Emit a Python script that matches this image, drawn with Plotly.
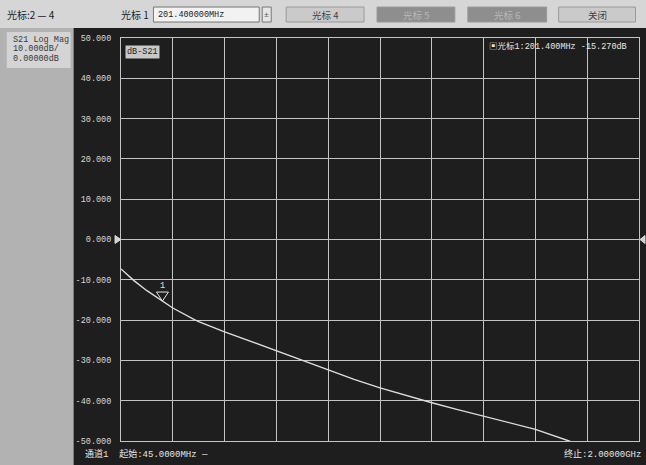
import plotly.graph_objects as go

# ---------------- data ----------------
freq_mhz = [45, 94, 142.75, 201.4, 240.5, 322, 338, 436, 533.75, 631.5, 720,
            827, 924.75, 1022.5, 1120.25, 1218, 1315.75, 1413.5, 1511.25, 1609,
            1736, 1804.5, 2000]
s21_db = [-7.3, -10.2, -12.7, -15.27, -17.0, -19.9, -20.4, -22.9, -25.3, -27.6,
          -29.8, -32.4, -34.7, -36.8, -38.7, -40.5, -42.2, -43.8, -45.4, -47.1,
          -50.0, -51.8, -56.0]
y_tick_vals = [50, 40, 30, 20, 10, 0, -10, -20, -30, -40, -50]
y_tick_text = ["50.000", "40.000", "30.000", "20.000", "10.000", "0.000",
               "-10.000", "-20.000", "-30.000", "-40.000", "-50.000"]
start_mhz = 45
stop_mhz = 2000
y_min, y_max = -50, 50
marker_freq = 201.4
marker_db = -15.27
ref_level = 0

# ---------------- geometry helpers (pixels -> paper) ----------------
W, H = 646, 465
L, R, T, B = 120.5, 639.5, 38, 441.5


def px(x):
    return (x - L) / (R - L)


def py(y):
    return (B - y) / (B - T)


MONO = "Liberation Mono, Noto Sans CJK SC, monospace"
CJK = "Noto Sans CJK SC, Liberation Mono, sans-serif"

fig = go.Figure()

fig.add_trace(go.Scatter(
    x=freq_mhz, y=s21_db, mode="lines",
    line=dict(color="#dcdcdc", width=1.4),
    hoverinfo="skip", showlegend=False,
))

shapes = []
annotations = []

# background panels
shapes.append(dict(type="rect", xref="paper", yref="paper", layer="below",
                   x0=px(-2), x1=px(73), y0=py(28), y1=py(H + 5),
                   fillcolor="#b2b2b2", line=dict(width=0)))
shapes.append(dict(type="rect", xref="paper", yref="paper", layer="below",
                   x0=px(73), x1=px(W + 5), y0=py(28), y1=py(H + 5),
                   fillcolor="#1e1e1e", line=dict(width=0)))
# left info box
shapes.append(dict(type="rect", xref="paper", yref="paper", layer="below",
                   x0=px(6), x1=px(70), y0=py(32), y1=py(68),
                   fillcolor="#d4d4d4", line=dict(width=0)))
for i, t in enumerate(["S21 Log Mag", "10.000dB/", "0.00000dB"]):
    annotations.append(dict(xref="paper", yref="paper", x=px(10), y=py(40 + i * 9.5),
                            xanchor="left", yanchor="middle", showarrow=False,
                            text=t, font=dict(family=MONO, size=8.5, color="#3a3a3a")))

# toolbar
annotations.append(dict(xref="paper", yref="paper", x=px(4), y=py(14),
                        xanchor="left", yanchor="middle", showarrow=False,
                        text="光标:2 — 4", font=dict(family=CJK, size=10, color="#222")))
annotations.append(dict(xref="paper", yref="paper", x=px(118), y=py(14),
                        xanchor="left", yanchor="middle", showarrow=False,
                        text="光标 1", font=dict(family=CJK, size=10, color="#222")))
shapes.append(dict(type="rect", xref="paper", yref="paper", layer="below",
                   x0=px(153), x1=px(259), y0=py(7), y1=py(22),
                   fillcolor="#f2f2f2", line=dict(color="#777", width=1)))
annotations.append(dict(xref="paper", yref="paper", x=px(156), y=py(14.5),
                        xanchor="left", yanchor="middle", showarrow=False,
                        text="201.400000MHz", font=dict(family=MONO, size=8.5, color="#222")))
shapes.append(dict(type="rect", xref="paper", yref="paper", layer="below",
                   x0=px(262), x1=px(271), y0=py(7), y1=py(22),
                   fillcolor="#e6e6e6", line=dict(color="#777", width=1)))
annotations.append(dict(xref="paper", yref="paper", x=px(266.5), y=py(14.5),
                        xanchor="center", yanchor="middle", showarrow=False,
                        text="±", font=dict(family=MONO, size=8, color="#555")))
buttons = [("光标 4", 286, 364, "#cacaca", "#444"),
           ("光标 5", 377, 455, "#8e8e8e", "#b8b8b8"),
           ("光标 6", 468, 547, "#8e8e8e", "#b8b8b8"),
           ("关闭", 559, 636, "#cacaca", "#444")]
for t, x0, x1, fc, tc in buttons:
    shapes.append(dict(type="rect", xref="paper", yref="paper", layer="below",
                       x0=px(x0), x1=px(x1), y0=py(7), y1=py(22),
                       fillcolor=fc, line=dict(color="#9a9a9a", width=1)))
    annotations.append(dict(xref="paper", yref="paper", x=px((x0 + x1) / 2), y=py(14.5),
                            xanchor="center", yanchor="middle", showarrow=False,
                            text=t, font=dict(family=CJK, size=9.5, color=tc)))

# trace label box
annotations.append(dict(xref="paper", yref="paper", x=px(125), y=py(52),
                        xanchor="left", yanchor="middle", showarrow=False,
                        text="dB-S21", bgcolor="#c8c8c8", borderpad=1,
                        font=dict(family=MONO, size=8.5, color="#222")))
# marker readout
annotations.append(dict(xref="paper", yref="paper", x=px(629), y=py(46.5),
                        xanchor="right", yanchor="middle", showarrow=False,
                        text="▣光标1:201.400MHz -15.270dB",
                        font=dict(family=MONO, size=8.5, color="#e6e6e6")))
# bottom status line
annotations.append(dict(xref="paper", yref="paper", x=px(82), y=py(455),
                        xanchor="left", yanchor="middle", showarrow=False,
                        text="通道1  起始:45.0000MHz —",
                        font=dict(family=MONO, size=9, color="#e6e6e6")))
annotations.append(dict(xref="paper", yref="paper", x=px(644), y=py(455),
                        xanchor="right", yanchor="middle", showarrow=False,
                        text="终止:2.00000GHz",
                        font=dict(family=MONO, size=9, color="#e6e6e6")))

# reference level arrows (outside the grid, pointing at it)
ref_frac = (ref_level - y_min) / (y_max - y_min)
shapes.append(dict(type="path", xref="paper", yref="paper", layer="above",
                   xsizemode="pixel", ysizemode="pixel",
                   xanchor=0, yanchor=ref_frac,
                   path="M-6,-4 L0,0 L-6,4 Z",
                   fillcolor="#d4d4d4", line=dict(color="#d4d4d4", width=1)))
shapes.append(dict(type="path", xref="paper", yref="paper", layer="above",
                   xsizemode="pixel", ysizemode="pixel",
                   xanchor=1, yanchor=ref_frac,
                   path="M6,-4 L1,0 L6,4 Z",
                   fillcolor="#d4d4d4", line=dict(color="#d4d4d4", width=1)))

# marker 1 triangle and label
shapes.append(dict(type="path", xref="x", yref="y", layer="above",
                   xsizemode="pixel", ysizemode="pixel",
                   xanchor=marker_freq, yanchor=marker_db,
                   path="M-6,9 L6,9 L0,0 Z",
                   line=dict(color="#e0e0e0", width=1)))
annotations.append(dict(xref="x", yref="y", x=marker_freq, y=marker_db,
                        yshift=15, showarrow=False, text="1",
                        font=dict(family=MONO, size=8.5, color="#e0e0e0")))

fig.update_layout(
    width=W, height=H, autosize=False,
    margin=dict(l=L, r=W - R, t=T, b=H - B, pad=0),
    paper_bgcolor="#d6d6d6",
    plot_bgcolor="#1e1e1e",
    showlegend=False,
    shapes=shapes,
    annotations=annotations,
)
fig.update_xaxes(
    range=[start_mhz, stop_mhz], tick0=start_mhz, dtick=(stop_mhz - start_mhz) / 10,
    showticklabels=False, ticks="", showgrid=True, gridcolor="#c4c4c4", gridwidth=1,
    zeroline=False, showline=True, linecolor="#c4c4c4", linewidth=1, mirror=True,
)
fig.update_yaxes(
    range=[y_min, y_max], tickvals=y_tick_vals, ticktext=y_tick_text,
    ticks="", showgrid=True, gridcolor="#c4c4c4", gridwidth=1,
    zeroline=False, showline=True, linecolor="#c4c4c4", linewidth=1, mirror=True,
    tickfont=dict(family=MONO, size=8.5, color="#d8d8d8"), ticklabelstandoff=7,
)

fig.write_html("out.html",
               config={"displayModeBar": False},
               post_script="document.body.style.margin='0';"
                           "document.body.style.overflow='hidden';")
